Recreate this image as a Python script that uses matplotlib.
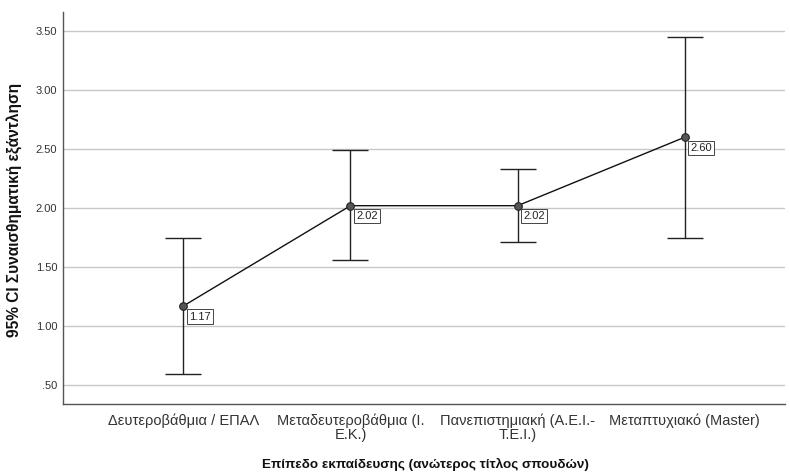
import matplotlib
matplotlib.use("Agg")
import matplotlib.pyplot as plt

categories = ["Δευτεροβάθμια / ΕΠΑΛ", "Μεταδευτεροβάθμια (Ι.\nΕ.Κ.)",
              "Πανεπιστημιακή (Α.Ε.Ι.-\nΤ.Ε.Ι.)", "Μεταπτυχιακό (Master)"]
means = [1.17, 2.02, 2.02, 2.60]
ci_low = [0.59, 1.56, 1.71, 1.75]
ci_high = [1.75, 2.49, 2.33, 3.45]
yticks = [0.5, 1.0, 1.5, 2.0, 2.5, 3.0, 3.5]
yticklabels = [".50", "1.00", "1.50", "2.00", "2.50", "3.00", "3.50"]

plt.rcParams['font.family'] = ['Liberation Sans', 'DejaVu Sans']

fig = plt.figure(figsize=(7.9, 4.75), dpi=100)
ax = fig.add_axes([0.0797, 0.1495, 0.914, 0.825])

x = list(range(len(categories)))
err = [[m - l for m, l in zip(means, ci_low)], [h - m for m, h in zip(means, ci_high)]]
ax.errorbar(x, means, yerr=err, fmt='none', ecolor='#222222', elinewidth=1.0,
            capsize=13, capthick=1.0, zorder=3)
ax.plot(x, means, color='#111111', lw=1.0, marker='o', ms=5.5,
        mfc='#555555', mec='#222222', mew=0.8, zorder=4)

for xi, m in zip(x, means):
    ax.annotate(f"{m:.2f}", (xi, m), xytext=(4, -4), textcoords='offset points',
                ha='left', va='top', fontsize=8, color='#222222',
                bbox=dict(boxstyle='square,pad=0.2', fc='white', ec='#444444', lw=0.7),
                zorder=5)

ax.set_xlim(-0.72, 3.6)
ax.set_ylim(0.34, 3.66)
ax.set_yticks(yticks)
ax.set_yticklabels(yticklabels)
ax.set_xticks(x)
ax.set_xticklabels(categories, fontsize=10.5, color='#333333', linespacing=0.95)
ax.tick_params(axis='y', length=0, labelsize=8, labelcolor='#333333', pad=4)
ax.tick_params(axis='x', length=0, pad=7)
ax.yaxis.grid(True, color='#c8c8c8', lw=1.0)
ax.set_axisbelow(True)
for s in ['top', 'right']:
    ax.spines[s].set_visible(False)
for s in ['left', 'bottom']:
    ax.spines[s].set_color('#555555')
    ax.spines[s].set_linewidth(1.0)

fig.text(425 / 790, 1 - 464 / 475, "Επίπεδο εκπαίδευσης (ανώτερος τίτλος σπουδών)",
         fontsize=9.7, fontweight='bold', color='#111111', ha='center', va='center')
fig.text(15 / 790, 1 - 210 / 475, "95% CI Συναισθηματική εξάντληση", rotation=90,
         fontsize=11.2, fontweight='bold', color='#111111', ha='center', va='center')

fig.savefig("out.png", dpi=100)
